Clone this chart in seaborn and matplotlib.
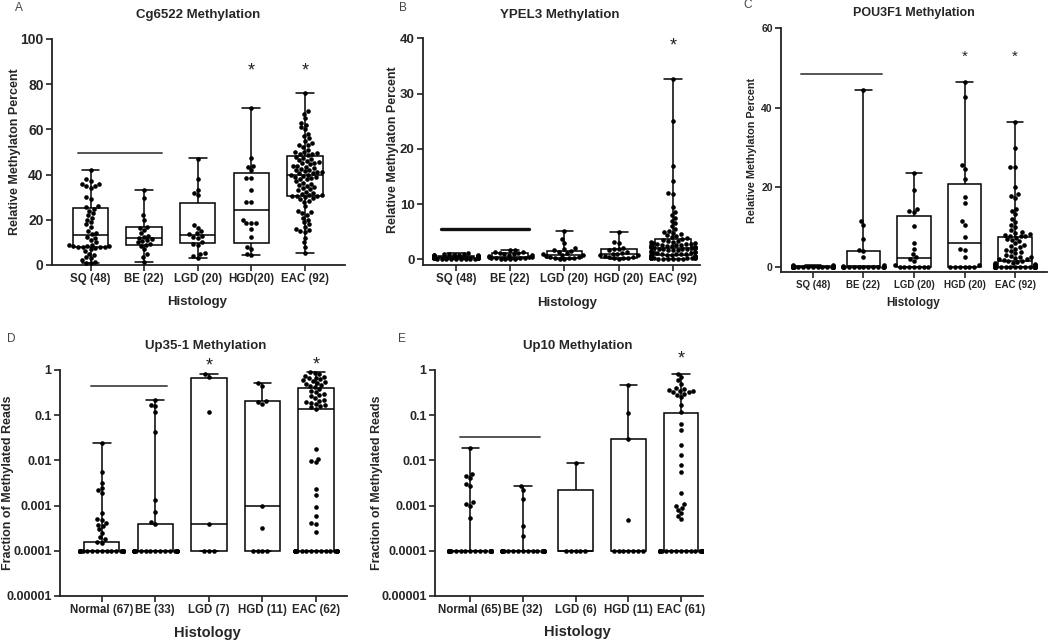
import warnings
import numpy as np
import pandas as pd
import matplotlib
matplotlib.use("Agg")
import matplotlib.pyplot as plt
from matplotlib.ticker import NullLocator
import seaborn as sns

warnings.filterwarnings("ignore")

# ---------------- data ----------------
groups = ["G1", "G2", "G3", "G4", "G5"]
FL = 0.0001  # floor value used for zero reads on the log panels

# A  Cg6522
a_sq = [42, 38, 37, 36, 36, 35, 35, 34, 30, 29, 26, 25.5,
        25, 24, 23, 22, 21, 20, 19, 18, 17, 15, 14, 13.5,
        12.5, 12, 11, 10, 9, 8.8, 8.5, 8.3, 8.2, 8.1, 8.0, 8.0,
        7.8, 7.5, 7, 6, 5, 4.5, 3.5, 3, 2, 1.5, 1, 0.8]
a_be = [33, 29.5, 22, 20, 17, 16.5, 15.5, 14, 13, 12.5, 12, 11.5, 11,
        10.5, 10, 9.5, 9, 8.5, 7, 5, 3.5, 1.5]
a_lgd = [47, 38, 33, 32, 31, 17.5, 16.5, 15, 14, 13.5, 13, 12.5, 12,
         10, 9.5, 9, 5.5, 5, 4, 3.3]
a_hgd = [69.5, 47.5, 44, 43.5, 42, 38.5, 38.5, 33, 28, 28, 20, 18.5,
         18.5, 18.5, 16, 12.5, 8, 7, 5, 4.5]
a_eac = [76, 68, 67, 65, 63, 62, 61, 60, 58, 57, 56, 55, 54, 53, 53, 52,
         51, 50, 50, 49.5, 49, 49, 48.5,
         48, 47.5, 47, 46.5, 46, 45.5, 45, 45, 44.5, 44, 44, 43.5, 43, 42.5,
         42, 42, 41.5, 41, 41, 40.5, 40.5, 40, 40,
         39.5, 39, 39, 38.5, 38, 38, 37, 36.5, 36, 35.5, 35, 34.5, 34, 33.5,
         33, 32.5, 32, 31.5, 31, 31, 30.5, 30.5, 30.5,
         30, 29.5, 29, 28.5, 28, 26, 24, 23.5, 23, 22, 21, 20, 19, 18, 17,
         16, 15.5, 15, 14.5, 12, 10, 8, 5.5]
a_box = [[0.8, 8.1, 13.1, 25.4, 42], [1.5, 8.7, 11.8, 16.7, 33.2],
         [3.3, 9.6, 13.1, 27.6, 47.2], [4.4, 9.6, 24.3, 40.6, 69.3],
         [5.4, 30.5, 39.8, 48.4, 76.3]]

# B  YPEL3
b_sq = [1.1, 1.0, 0.95, 0.9, 0.85, 0.8, 0.75, 0.7, 0.7, 0.65, 0.6, 0.6,
        0.55, 0.55, 0.5, 0.5, 0.5, 0.45, 0.45, 0.4, 0.4, 0.4, 0.35, 0.35,
        0.35, 0.3, 0.3, 0.3, 0.3, 0.25, 0.25, 0.25, 0.2, 0.2, 0.2, 0.2,
        0.15, 0.15, 0.15, 0.1, 0.1, 0.1, 0.1, 0.05, 0.05, 0.05, 0.05, 0.05]
b_be = [1.75, 1.6, 1.4, 1.3, 1.2, 1.1, 1.0, 0.9, 0.8, 0.7, 0.6, 0.5, 0.45,
        0.4, 0.3, 0.25, 0.2, 0.15, 0.1, 0.05, 0.05, 0.0]
b_lgd = [5.1, 3.7, 3.0, 2.0, 1.8, 1.6, 1.5, 1.3, 1.1, 0.9, 0.8, 0.7, 0.6,
         0.5, 0.4, 0.3, 0.25, 0.2, 0.1, 0.05]
b_hgd = [5.0, 3.2, 3.0, 2.0, 1.9, 1.8, 1.6, 1.4, 1.2, 1.0, 0.9, 0.8, 0.7,
         0.6, 0.5, 0.4, 0.3, 0.3, 0.2, 0.1]
b_eac = [32.6, 25.0, 16.8, 14.1, 12.0, 11.8, 9.5, 8.5, 8.0, 7.5, 7.0, 6.5,
         6.0, 5.5, 5.2, 5.0, 4.8, 4.6, 4.4, 4.2, 4.0, 3.8, 3.7,
         3.5, 3.4, 3.3, 3.2, 3.1, 3.0, 2.9, 2.8, 2.8, 2.7, 2.6, 2.6, 2.5,
         2.5, 2.4, 2.4, 2.3, 2.3, 2.2, 2.2, 2.2, 2.1, 2.1,
         2.0, 2.0, 1.9, 1.9, 1.8, 1.8, 1.7, 1.6, 1.6, 1.5, 1.4, 1.4, 1.3,
         1.2, 1.2, 1.1, 1.0, 1.0, 0.9, 0.9, 0.8, 0.8, 0.7,
         0.65, 0.6, 0.55, 0.5, 0.5, 0.45, 0.4, 0.4, 0.35, 0.3, 0.3, 0.25,
         0.25, 0.2, 0.2, 0.15, 0.15, 0.1, 0.1, 0.05, 0.05, 0.0, 0.0]
b_box = [[0.05, 0.2, 0.35, 0.6, 1.1], [0.0, 0.15, 0.5, 1.2, 1.75],
         [0.0, 0.25, 0.8, 1.55, 5.1], [0.05, 0.3, 0.9, 1.8, 5.0],
         [0.0, 0.7, 2.1, 3.6, 32.6]]

# C  POU3F1
c_sq = [0.5, 0.4, 0.35, 0.3, 0.3, 0.25, 0.2, 0.2, 0.15, 0.15, 0.1, 0.1,
        0.1, 0.05, 0.05, 0.05] + [0.0] * 32
c_be = [44.5, 11.5, 10.5, 7.0, 4.2, 4.0, 2.4, 0.6, 0.3] + [0.0] * 13
c_lgd = [23.5, 19.3, 14.5, 14.0, 13.7, 10.3, 6.0, 4.5, 3.3, 2.5, 2.0, 1.5,
         0.5] + [0.0] * 7
c_hgd = [46.4, 42.7, 25.5, 24.5, 22.0, 17.5, 16.0, 11.5, 10.5, 7.5, 4.5,
         4.3, 2.5, 0.5] + [0.0] * 6
c_eac = [36.4, 29.8, 25.2, 25.0, 20.0, 18.2, 17.8, 17.2, 14.5, 14.0, 13.2,
         12.0, 11.2, 10.5, 10.0, 9.2, 8.8, 8.5, 8.2, 8.0, 7.9, 7.8, 7.7,
         7.3, 7.0, 6.8, 6.5, 6.0, 5.6, 5.2, 5.0, 4.6, 4.3, 4.0, 3.7, 3.4,
         3.1, 2.8, 2.6, 2.4, 2.2, 2.0, 1.9, 1.7, 1.6, 1.5,
         1.2, 1.0, 0.9, 0.8, 0.7, 0.6, 0.5, 0.5, 0.4, 0.4, 0.3, 0.3, 0.2,
         0.2, 0.1, 0.1] + [0.0] * 30
c_box = [[0, 0, 0.05, 0.15, 0.5], [0, 0, 0.3, 4.0, 44.5],
         [0, 0, 2.2, 12.9, 23.5], [0, 0.1, 6.1, 20.9, 46.4],
         [0, 0, 1.4, 7.6, 36.4]]

# D  Up35-1
d_nor = [0.024, 0.0055, 0.0031, 0.0024, 0.0022, 0.0019, 0.0007, 0.0005,
         0.00048, 0.00042, 0.00038, 0.00035, 0.0003, 0.00025, 0.0002,
         0.00018, 0.00016, 0.00015] + [FL] * 49
d_be = [0.22, 0.17, 0.16, 0.12, 0.043, 0.0013, 0.00074, 0.00043,
        0.0004] + [FL] * 24
d_lgd = [0.8, 0.7, 0.115, 0.0004] + [FL] * 3
d_hgd = [0.51, 0.45, 0.21, 0.2, 0.18, 0.001, 0.00032] + [FL] * 4
d_eac = [0.91, 0.85, 0.8, 0.75, 0.7, 0.68, 0.65, 0.62, 0.6, 0.57, 0.55,
         0.52, 0.5, 0.47, 0.45, 0.42, 0.38, 0.35, 0.33, 0.3, 0.28, 0.26,
         0.24, 0.22, 0.21, 0.2, 0.19, 0.18, 0.17, 0.16, 0.15, 0.14,
         0.018, 0.011, 0.0095, 0.009, 0.0023, 0.0017, 0.00095, 0.0006,
         0.00042, 0.0004, 0.00026] + [FL] * 19
d_box = [[FL, FL, FL, 0.000155, 0.024], [FL, FL, FL, 0.0004, 0.22],
         [FL, FL, 0.0004, 0.65, 0.8], [FL, FL, 0.001, 0.21, 0.51],
         [FL, FL, 0.135, 0.39, 0.91]]

# E  Up10
e_nor = [0.019, 0.005, 0.0045, 0.004, 0.003, 0.0027, 0.0012, 0.0011,
         0.001, 0.00052] + [FL] * 55
e_be = [0.0027, 0.0022, 0.0014, 0.00036, 0.00021] + [FL] * 27
e_lgd = [0.0087] + [FL] * 5
e_hgd = [0.47, 0.114, 0.03, 0.00047] + [FL] * 7
e_eac = [0.8, 0.7, 0.6, 0.5, 0.4, 0.38, 0.36, 0.35, 0.34, 0.33, 0.32, 0.3,
         0.28, 0.25, 0.17, 0.12, 0.065, 0.046, 0.022, 0.013, 0.0078,
         0.0055, 0.0019, 0.0011, 0.001, 0.0009, 0.0008, 0.0007, 0.0006,
         0.0005] + [FL] * 31
e_box = [[FL, FL, FL, FL, 0.019], [FL, FL, FL, FL, 0.0027],
         [FL, FL, FL, 0.0022, 0.0087], [FL, FL, FL, 0.03, 0.46],
         [FL, FL, FL, 0.11, 0.8]]

a_labels = ["SQ (48)", "BE (22)", "LGD (20)", "HGD(20)", "EAC (92)"]
bc_labels = ["SQ (48)", "BE (22)", "LGD (20)", "HGD (20)", "EAC (92)"]
d_labels = ["Normal (67)", "BE (33)", "LGD (7)", "HGD (11)", "EAC (62)"]
e_labels = ["Normal (65)", "BE (32)", "LGD (6)", "HGD (11)", "EAC (61)"]

log_ticks = [1e-5, 1e-4, 1e-3, 1e-2, 1e-1, 1]
log_ticklabels = ["0.00001", "0.0001", "0.001", "0.01", "0.1", "1"]

# ---------------- drawing ----------------
sns.set_theme(style="ticks")
plt.rcParams['font.family'] = ['Liberation Sans', 'DejaVu Sans']
plt.rcParams['font.weight'] = 'bold'

W, H = 1050, 640
fig = plt.figure(figsize=(10.5, 6.4), dpi=100)


def px_text(x, y, s, **kw):
    # text placed by pixel position of the reference picture
    fig.text(x / W, 1 - y / H, s, ha="center", va="center", **kw)


def panel(rect, points, box, labels, log, xlim, ylim, xfs, yfs, yticks=None):
    ax = fig.add_axes(rect)
    pts = pd.DataFrame({"g": np.repeat(groups, [len(p) for p in points]),
                        "v": np.concatenate(points)})
    bx = pd.DataFrame({"g": np.repeat(groups, 5), "v": np.concatenate(box)})
    ls = True if log else None
    sns.boxplot(data=bx, x="g", y="v", order=groups, whis=(0, 100),
                width=0.66, color="white", linecolor="black", linewidth=1.1,
                log_scale=ls, ax=ax)
    sns.swarmplot(data=pts, x="g", y="v", order=groups, color="black",
                  size=3.3, linewidth=0, log_scale=ls, ax=ax, zorder=3)
    ax.set_xlim(*xlim)
    ax.set_ylim(*ylim)
    ax.set_xticks(range(5))
    ax.set_xticklabels(labels, fontsize=xfs, fontweight="bold")
    if log:
        ax.set_yticks(log_ticks)
        ax.set_yticklabels(log_ticklabels)
        ax.yaxis.set_minor_locator(NullLocator())
    else:
        ax.set_yticks(yticks)
    for t in ax.get_yticklabels():
        t.set_fontsize(yfs)
        t.set_fontweight("bold")
    ax.set_xlabel("")
    ax.set_ylabel("")
    sns.despine(ax=ax)
    for s in ("left", "bottom"):
        ax.spines[s].set_linewidth(1.3)
        ax.spines[s].set_color("#222222")
    ax.tick_params(length=4, width=1.2, color="#222222", pad=2)
    return ax


def sig(ax, x0, x1, y, lw=1.4, color="#555555"):
    ax.plot([x0, x1], [y, y], color=color, lw=lw, clip_on=False, zorder=4)


def star(ax, x, y, fs=13):
    ax.text(x, y, "*", ha="center", va="center", fontsize=fs,
            fontweight="normal", color="#222222")


# A
axA = panel([52 / W, 1 - 265 / H, 293 / W, 226 / H],
            [a_sq, a_be, a_lgd, a_hgd, a_eac], a_box, a_labels, False,
            (-0.72, 4.75), (0, 100), 8.3, 10, [0, 20, 40, 60, 80, 100])
sig(axA, -0.24, 1.33, 49.7)
star(axA, 3, 86)
star(axA, 4, 86)

# B
axB = panel([423 / W, 1 - 265 / H, 277 / W, 226.7 / H],
            [b_sq, b_be, b_lgd, b_hgd, b_eac], b_box, bc_labels, False,
            (-0.61, 4.5), (-1.03, 40), 8.3, 9.5, [0, 10, 20, 30, 40])
sig(axB, -0.28, 1.35, 5.5, lw=2.4, color="#111111")
star(axB, 4, 38.6)

# C
axC = panel([781 / W, 1 - 272 / H, 266 / W, 244 / H],
            [c_sq, c_be, c_lgd, c_hgd, c_eac], c_box, bc_labels, False,
            (-0.63, 4.63), (-1.26, 60), 7, 7.5, [0, 20, 40, 60])
sig(axC, -0.24, 1.36, 48.5)
star(axC, 3, 52.8, fs=11)
star(axC, 4, 52.8, fs=11)

# D
axD = panel([60 / W, 1 - 596 / H, 287 / W, 226 / H],
            [d_nor, d_be, d_lgd, d_hgd, d_eac], d_box, d_labels, True,
            (-0.78, 4.58), (1e-5, 1), 8.3, 9)
sig(axD, -0.2, 1.21, 0.44)
star(axD, 2, 1.2)
star(axD, 4, 1.3)

# E
axE = panel([435 / W, 1 - 596 / H, 268 / W, 226 / H],
            [e_nor, e_be, e_lgd, e_hgd, e_eac], e_box, e_labels, True,
            (-0.67, 4.42), (1e-5, 1), 8.3, 9)
sig(axE, -0.2, 1.32, 0.033)
star(axE, 4, 1.75)

# titles, axis labels and panel letters
px_text(198, 15, "Cg6522 Methylation", fontsize=9.5, fontweight="bold")
px_text(560, 15, "YPEL3 Methylation", fontsize=9.5, fontweight="bold")
px_text(914, 13, "POU3F1 Methylation", fontsize=9, fontweight="bold")
px_text(206, 346, "Up35-1 Methylation", fontsize=9.5, fontweight="bold")
px_text(578, 346, "Up10 Methylation", fontsize=9.5, fontweight="bold")

px_text(15, 152, "Relative Methylaton Percent", rotation=90, fontsize=9,
        fontweight="bold")
px_text(393, 150, "Relative Methylaton Percent", rotation=90, fontsize=9,
        fontweight="bold")
px_text(752, 150, "Relative Methylaton Percent", rotation=90, fontsize=7.8,
        fontweight="bold")
px_text(8, 483, "Fraction of Methylated Reads", rotation=90, fontsize=9,
        fontweight="bold")
px_text(377, 483, "Fraction of Methylated Reads", rotation=90, fontsize=9,
        fontweight="bold")

px_text(197, 302, "Histology", fontsize=9.5, fontweight="bold")
px_text(567, 303, "Histology", fontsize=9.5, fontweight="bold")
px_text(913, 303, "Histology", fontsize=8.5, fontweight="bold")
px_text(207, 633, "Histology", fontsize=10.5, fontweight="bold")
px_text(577, 632, "Histology", fontsize=10.5, fontweight="bold")

for x, y, s in [(19, 8, "A"), (403, 8, "B"), (748, 5, "C"),
                (11, 339, "D"), (402, 339, "E")]:
    px_text(x, y, s, fontsize=8.5, fontweight="normal", color="#444444")

fig.savefig("out.png", dpi=100)
